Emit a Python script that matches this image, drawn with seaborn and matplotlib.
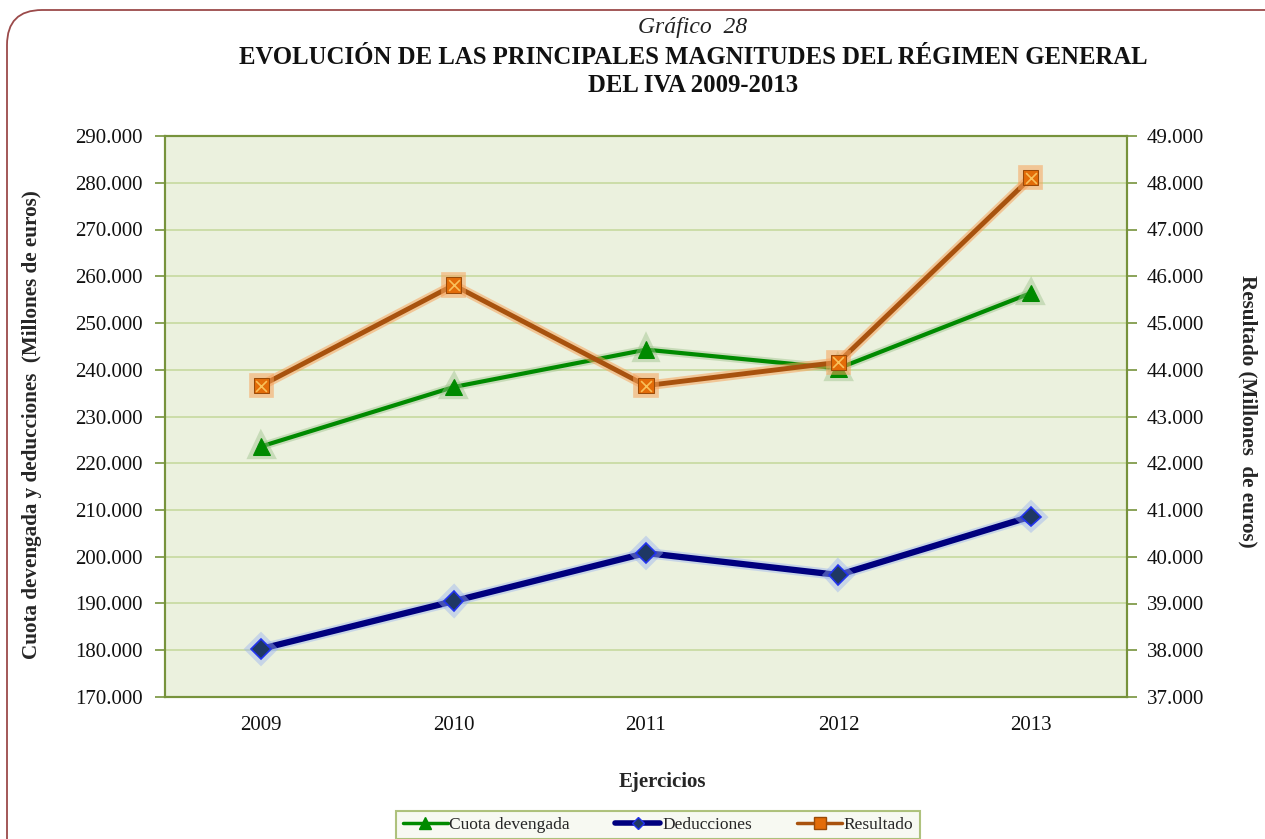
import numpy as np
import pandas as pd
import matplotlib
matplotlib.use("Agg")
import matplotlib.pyplot as plt
import matplotlib.patheffects as pe
from matplotlib.lines import Line2D
from matplotlib.patches import FancyBboxPatch
from matplotlib.ticker import FuncFormatter, FixedLocator
import seaborn as sns

# ---- data ----
years = ["2009", "2010", "2011", "2012", "2013"]
cuota_devengada = [223600, 236300, 244300, 240300, 256400]
deducciones = [180300, 190500, 200800, 196100, 208600]
resultado = [43660, 45810, 43660, 44160, 48110]
left_ticks = [170000, 180000, 190000, 200000, 210000, 220000, 230000, 240000,
              250000, 260000, 270000, 280000, 290000]
right_ticks = [37000, 38000, 39000, 40000, 41000, 42000, 43000, 44000,
               45000, 46000, 47000, 48000, 49000]

sns.set_style("white")
plt.rcParams['font.family'] = ['Liberation Serif', 'DejaVu Serif']

W, H = 1265, 839
fig = plt.figure(figsize=(W / 100, H / 100), dpi=100)
fig.patch.set_facecolor("white")

# outer rounded frame
frame = FancyBboxPatch((0.07, -0.6), 13.5, 8.89,
                       boxstyle="round,pad=0,rounding_size=0.35",
                       transform=fig.dpi_scale_trans, fill=False,
                       edgecolor="#9B4A4A", linewidth=1.3, zorder=0)
fig.patches.append(frame)

ax = fig.add_axes([165 / W, 1 - 697 / H, (1127 - 165) / W, (697 - 136) / H])
ax.set_facecolor("#EBF1DE")

x = np.arange(len(years))
df = pd.DataFrame({"x": x, "Cuota devengada": cuota_devengada,
                   "Deducciones": deducciones, "Resultado": resultado})

olive = "#77933C"
grid_c = "#C9DBA4"

# Cuota devengada
sns.lineplot(data=df, x="x", y="Cuota devengada", ax=ax, color="#008A00",
             linewidth=3, marker="^", markersize=12, markeredgecolor="#008A00",
             markerfacecolor="#008A00", zorder=4)
ax.lines[-1].set_path_effects([pe.Stroke(linewidth=6, foreground="#9CC28A", alpha=0.45),
                               pe.Normal()])
# Deducciones
sns.lineplot(data=df, x="x", y="Deducciones", ax=ax, color="#00007E",
             linewidth=4.5, marker="D", markersize=10, markeredgecolor="#2233EE",
             markerfacecolor="#1F3864", markeredgewidth=1.2, zorder=4)
ax.lines[-1].set_path_effects([pe.Stroke(linewidth=7.5, foreground="#9DB5F0", alpha=0.45),
                               pe.Normal()])

ax.set_xlim(-0.5, 4.5)
ax.set_ylim(170000, 290000)
ax.yaxis.set_major_locator(FixedLocator(left_ticks))
fmt = FuncFormatter(lambda v, p: f"{int(v):,}".replace(",", "."))
ax.yaxis.set_major_formatter(fmt)
ax.grid(axis="y", color=grid_c, linewidth=1.3, zorder=1)
ax.grid(axis="x", visible=False)
ax.set_axisbelow(True)

ax.set_xticks(x)
ax.set_xticklabels(years)
ax.set_xticks(np.arange(-0.5, 5.0, 1.0), minor=True)
ax.tick_params(axis="x", which="major", length=0, pad=14, labelsize=15, colors="#111111")
ax.tick_params(axis="x", which="minor", direction="in", length=8, color=olive, width=1.2)
ax.tick_params(axis="y", which="major", direction="out", length=7, color=olive, width=1.2,
               pad=9, labelsize=15, labelcolor="#111111")
for s in ax.spines.values():
    s.set_color(olive)
    s.set_linewidth(1.5)
ax.set_xlabel("")
ax.set_ylabel("")

# Resultado (right axis)
ax2 = ax.twinx()
sns.lineplot(data=df, x="x", y="Resultado", ax=ax2, color="#A8520E",
             linewidth=3.5, marker="s", markersize=11, markeredgecolor="#9A4A08",
             markerfacecolor="#E36C09", zorder=4)
ax2.lines[-1].set_path_effects([pe.Stroke(linewidth=7, foreground="#F7A35C", alpha=0.55),
                                pe.Normal()])
sns.scatterplot(data=df, x="x", y="Resultado", ax=ax2, marker="x", s=60,
                color="#F9C05A", linewidth=1.2, zorder=5)
ax2.set_ylim(37000, 49000)
ax2.yaxis.set_major_locator(FixedLocator(right_ticks))
ax2.yaxis.set_major_formatter(fmt)
ax2.tick_params(axis="y", direction="out", length=7, color=olive, width=1.2,
                pad=7, labelsize=15, labelcolor="#111111")
for s in ax2.spines.values():
    s.set_color(olive)
    s.set_linewidth(1.5)
ax2.grid(False)
ax2.set_ylabel("")
ax2.set_xlabel("")
ax2.set_xlim(-0.5, 4.5)

# titles
fig.text(693 / W, 1 - 27 / H, "Gráfico  28", ha="center", va="center",
         fontsize=17, style="italic", color="#222222")
fig.text(693 / W, 1 - 57 / H, "EVOLUCIÓN DE LAS PRINCIPALES MAGNITUDES DEL RÉGIMEN GENERAL",
         ha="center", va="center", fontsize=17.8, fontweight="bold", color="#111111")
fig.text(693 / W, 1 - 85 / H, "DEL IVA 2009-2013",
         ha="center", va="center", fontsize=17.8, fontweight="bold", color="#111111")

# axis labels
fig.text(32 / W, 1 - 425 / H, "Cuota devengada y deducciones  (Millones de euros)",
         rotation=90, ha="center", va="center", fontsize=15.2, fontweight="bold")
fig.text(1248 / W, 1 - 411 / H, "Resultado (Millones  de euros)",
         rotation=-90, ha="center", va="center", fontsize=15.2, fontweight="bold")
fig.text(662 / W, 1 - 782 / H, "Ejercicios", ha="center", va="center",
         fontsize=15, fontweight="bold")

# legend
handles = [
    Line2D([], [], color="#008A00", lw=2.5, marker="^", markersize=8),
    Line2D([], [], color="#00007E", lw=4, marker="D", markersize=6,
           markerfacecolor="#1F3864", markeredgecolor="#2233EE"),
    Line2D([], [], color="#A8520E", lw=2.5, marker="s", markersize=8,
           markerfacecolor="#E36C09", markeredgecolor="#9A4A08"),
]
labels = ["Cuota devengada", "Deducciones", "Resultado"]
leg = fig.legend(handles, labels, loc="upper center", bbox_to_anchor=(658 / W, 1 - 811 / H),
                 ncol=3, frameon=True, fontsize=12.5, handlelength=2.6, handletextpad=0.1,
                 columnspacing=2.6, borderpad=0.35, borderaxespad=0.0, fancybox=False)
leg.get_frame().set_facecolor("#F5F8EF")
leg.get_frame().set_edgecolor("#9BB35E")
leg.get_frame().set_linewidth(1.5)

fig.savefig("out.png", dpi=100)
